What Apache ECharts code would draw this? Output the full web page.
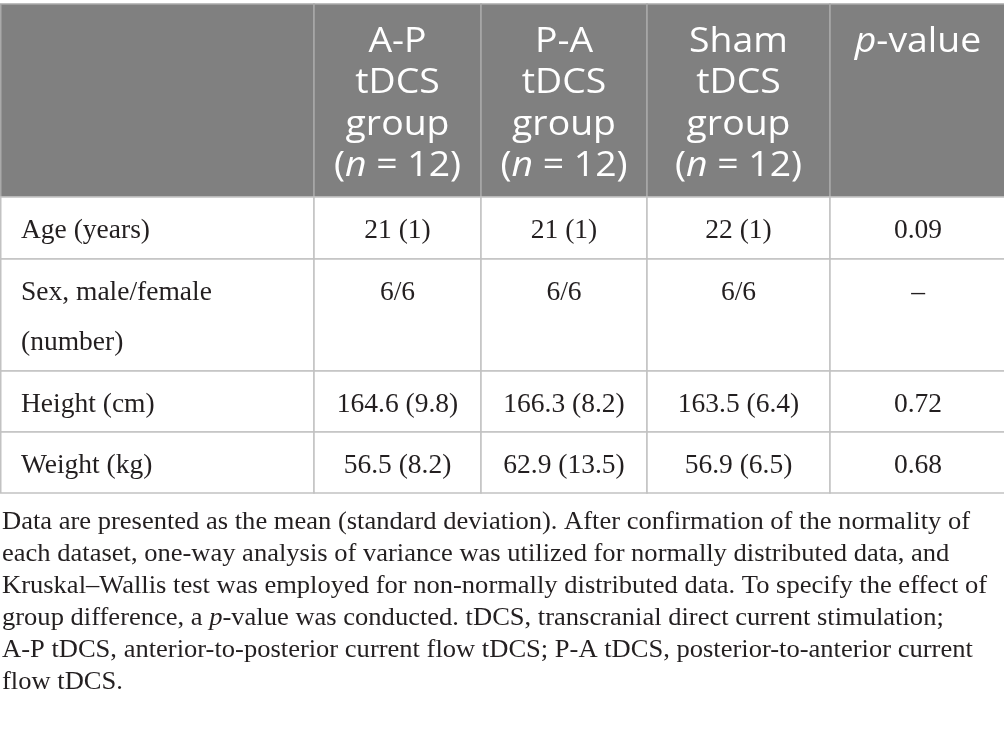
<!DOCTYPE html>
<html>
<head>
<meta charset="utf-8">
<script src="https://cdn.jsdelivr.net/npm/echarts@6/dist/echarts.min.js"></script>
<style>
html,body{margin:0;padding:0;background:#fff;}
#main{width:1004px;height:733px;}
</style>
</head>
<body>
<div id="main"></div>
<script>
// ---------- data ----------
const groupNames = ['A-P', 'P-A', 'Sham'];
const groupN = [12, 12, 12];
const rowLabels = [['Age (years)'], ['Sex, male/female', '(number)'], ['Height (cm)'], ['Weight (kg)']];
const apMean = [21, null, 164.6, 56.5];
const apSD = [1, null, 9.8, 8.2];
const paMean = [21, null, 166.3, 62.9];
const paSD = [1, null, 8.2, 13.5];
const shamMean = [22, null, 163.5, 56.9];
const shamSD = [1, null, 6.4, 6.5];
const sexRatio = ['6/6', '6/6', '6/6'];
const pValues = [0.09, null, 0.72, 0.68];
const footnoteLines = [
  'Data are presented as the mean (standard deviation). After confirmation of the normality of',
  'each dataset, one-way analysis of variance was utilized for normally distributed data, and',
  'Kruskal\u2013Wallis test was employed for non-normally distributed data. To specify the effect of',
  'group difference, a {i|p}-value was conducted. tDCS, transcranial direct current stimulation;',
  'A-P tDCS, anterior-to-posterior current flow tDCS; P-A tDCS, posterior-to-anterior current',
  'flow tDCS.'
];

// ---------- layout ----------
const colEdges = [0.75, 314, 481, 647, 830, 1006];
const rowEdges = [4, 197, 259, 371, 432, 493];
const HEAD_FONT = 'Open Sans';
const BODY_FONT = 'Liberation Serif';

function fmtVal(m, s) { return m + ' (' + s + ')'; }
const groupMeans = [apMean, paMean, shamMean];
const groupSDs = [apSD, paSD, shamSD];

function cellLines(c, r) {
  if (r === 0) {
    if (c === 0) return [];
    if (c <= 3) return [groupNames[c - 1], 'tDCS', 'group', '({i|n} = ' + groupN[c - 1] + ')'];
    return ['{i|p}-value'];
  }
  const ri = r - 1;
  if (c === 0) return rowLabels[ri];
  if (c <= 3) {
    if (groupMeans[c - 1][ri] == null) return [sexRatio[c - 1]];
    return [fmtVal(groupMeans[c - 1][ri], groupSDs[c - 1][ri])];
  }
  return [pValues[ri] == null ? '\u2013' : pValues[ri].toFixed(2)];
}

const cells = [];
for (let r = 0; r < rowEdges.length - 1; r++) {
  for (let c = 0; c < colEdges.length - 1; c++) cells.push([c, r]);
}

function renderItem(params, api) {
  const c = api.value(0), r = api.value(1);
  const x0 = colEdges[c], x1 = colEdges[c + 1];
  const y0 = rowEdges[r], y1 = rowEdges[r + 1];
  const head = r === 0;
  const children = [{
    type: 'rect',
    shape: { x: x0, y: y0, width: x1 - x0, height: y1 - y0 },
    style: { fill: head ? '#808080' : '#ffffff', stroke: head ? '#a9a9a9' : '#c2c2c2', lineWidth: 1.5 }
  }];
  const lines = cellLines(c, r);
  lines.forEach(function (t, k) {
    if (head) {
      children.push({
        type: 'text',
        x: (x0 + x1) / 2, y: 42 + k * 41.5,
        scaleX: 1.1,
        style: {
          text: t, x: 0, y: 0, fill: '#ffffff',
          fontFamily: HEAD_FONT, fontSize: 34,
          align: 'center', verticalAlign: 'middle',
          rich: { i: { fontStyle: 'italic', fontFamily: HEAD_FONT, fontSize: 34, fill: '#ffffff' } }
        }
      });
    } else {
      children.push({
        type: 'text',
        x: c === 0 ? 21 : (x0 + x1) / 2, y: y0 + 34 + k * 50,
        style: {
          text: t, x: 0, y: 0, fill: '#231f20',
          fontFamily: BODY_FONT, fontSize: 27.5,
          align: c === 0 ? 'left' : 'center', verticalAlign: 'middle'
        }
      });
    }
  });
  return { type: 'group', children: children };
}

// footnote scaling
const FOOT_SIZE = 25;
const cv = document.createElement('canvas').getContext('2d');
cv.font = FOOT_SIZE + 'px "' + BODY_FONT + '"';
const footScale = 968 / cv.measureText(footnoteLines[0]).width;

const footGraphics = footnoteLines.map(function (t, k) {
  return {
    type: 'text',
    x: 2, y: 522.5 + k * 32,
    scaleX: footScale,
    style: {
      text: t, fill: '#231f20', fontFamily: BODY_FONT, fontSize: FOOT_SIZE,
      verticalAlign: 'middle',
      rich: { i: { fontStyle: 'italic', fontFamily: BODY_FONT, fontSize: FOOT_SIZE, fill: '#231f20' } }
    }
  };
});

const chart = echarts.init(document.getElementById('main'), null, { renderer: 'canvas' });
chart.setOption({
  animation: false,
  backgroundColor: '#ffffff',
  series: [{
    type: 'custom',
    coordinateSystem: 'none',
    renderItem: renderItem,
    data: cells,
    silent: true
  }],
  graphic: footGraphics
});
</script>
</body>
</html>
